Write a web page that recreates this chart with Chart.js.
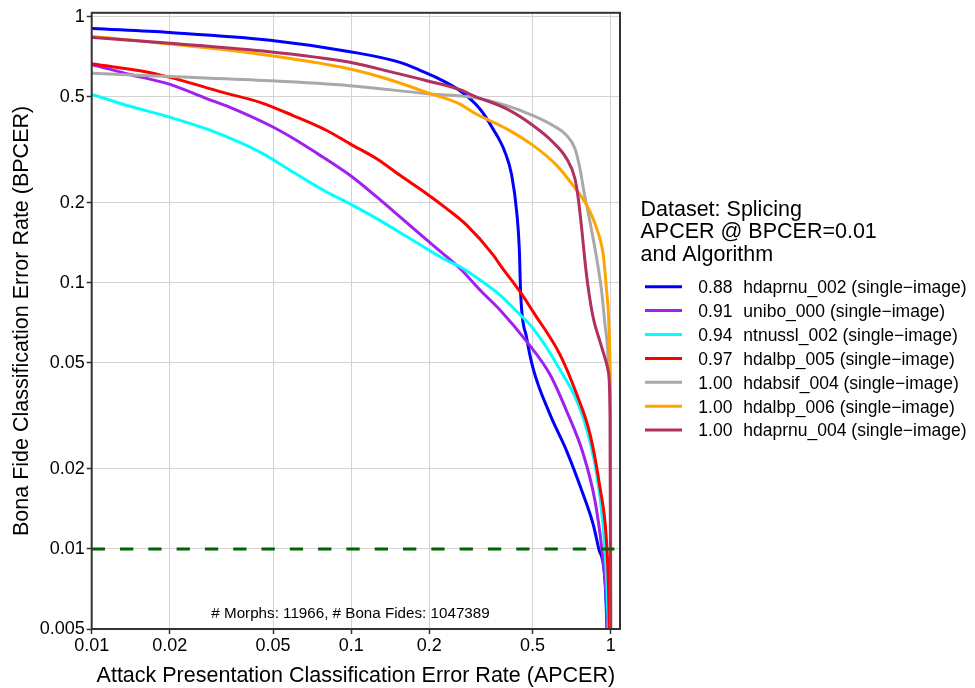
<!DOCTYPE html>
<html>
<head>
<meta charset="utf-8">
<script src="https://cdn.jsdelivr.net/npm/chart.js@4.4.1/dist/chart.umd.min.js"></script>
<style>
html,body{margin:0;padding:0;background:#ffffff;}
#c{display:block;}
</style>
</head>
<body>
<canvas id="c" width="975" height="688" style="width:975px;height:688px"></canvas>
<script>
// ---- tick labels ----
const xTicks = [0.01, 0.02, 0.05, 0.1, 0.2, 0.5, 1];
const yTicks = [0.005, 0.01, 0.02, 0.05, 0.1, 0.2, 0.5, 1];

// ---- legend / categories ----
const algorithms = [
  "hdaprnu_002 (single\u2212image)",
  "unibo_000 (single\u2212image)",
  "ntnussl_002 (single\u2212image)",
  "hdalbp_005 (single\u2212image)",
  "hdabsif_004 (single\u2212image)",
  "hdalbp_006 (single\u2212image)",
  "hdaprnu_004 (single\u2212image)"
];
const apcerAtBpcer = ["0.88", "0.91", "0.94", "0.97", "1.00", "1.00", "1.00"];
const seriesColors = ["#0000FF", "#A020F0", "#00FFFF", "#FF0000", "#A9A9A9", "#FFA500", "#B03060"];
const legendTitle = ["Dataset: Splicing", "APCER @ BPCER=0.01", "and Algorithm"];
const annotation = "# Morphs: 11966, # Bona Fides: 1047389";
const bpcerThreshold = 0.01;

// ---- series values (APCER = x, BPCER = y) ----
const hdaprnu002X = [0.0095, 0.01012, 0.02003, 0.04866, 0.09894, 0.1542, 0.1841, 0.2199, 0.2626, 0.3135, 0.3520, 0.3915, 0.4153, 0.4343, 0.4444, 0.4500, 0.4747, 0.5019, 0.5836, 0.6767, 0.7822, 0.8548, 0.8974, 0.9506, 0.9677, 0.972];
const hdaprnu002Y = [0.905, 0.902, 0.871, 0.815, 0.738, 0.673, 0.628, 0.581, 0.526, 0.4497, 0.3784, 0.3094, 0.2538, 0.1845, 0.1344, 0.0902, 0.0619, 0.0478, 0.0320, 0.0233, 0.01607, 0.01241, 0.01009, 0.00759, 0.005, 0.0043];

const unibo000X = [0.0095, 0.01012, 0.01405, 0.02003, 0.02757, 0.03412, 0.04866, 0.05967, 0.07364, 0.09894, 0.1254, 0.1542, 0.1954, 0.2333, 0.2626, 0.3183, 0.3745, 0.4747, 0.5836, 0.6767, 0.7842, 0.8701, 0.9232, 0.9592, 0.9703, 0.9746];
const unibo000Y = [0.665, 0.657, 0.606, 0.556, 0.493, 0.456, 0.3897, 0.3491, 0.3068, 0.2532, 0.2100, 0.1767, 0.1449, 0.1252, 0.1131, 0.0925, 0.0790, 0.0601, 0.0452, 0.0329, 0.0227, 0.01513, 0.01011, 0.00679, 0.00505, 0.0043];

const ntnussl002X = [0.0095, 0.01014, 0.01405, 0.02003, 0.02857, 0.04453, 0.05967, 0.08047, 0.09894, 0.1254, 0.1685, 0.2259, 0.2626, 0.3328, 0.3745, 0.4472, 0.5019, 0.6265, 0.7842, 0.8831, 0.9364, 0.9651, 0.9790, 0.983];
const ntnussl002Y = [0.515, 0.507, 0.460, 0.4184, 0.3741, 0.3094, 0.2604, 0.2192, 0.1977, 0.1741, 0.1465, 0.1233, 0.1148, 0.0983, 0.0899, 0.0759, 0.0674, 0.0485, 0.0310, 0.0191, 0.01202, 0.00759, 0.00505, 0.0043];

const hdalbp005X = [0.0095, 0.01014, 0.01535, 0.02003, 0.03206, 0.04453, 0.05967, 0.08047, 0.09894, 0.1254, 0.1542, 0.1954, 0.2333, 0.2787, 0.3529, 0.3745, 0.4472, 0.5019, 0.6376, 0.7396, 0.8323, 0.9095, 0.9592, 0.9790, 0.9877, 0.990];
const hdalbp005Y = [0.67, 0.663, 0.626, 0.591, 0.519, 0.476, 0.4247, 0.3732, 0.3324, 0.2921, 0.2532, 0.2160, 0.1898, 0.1645, 0.1270, 0.1168, 0.0925, 0.0779, 0.0537, 0.0381, 0.0270, 0.01697, 0.01138, 0.00759, 0.00505, 0.0043];

const hdabsif004X = [0.0095, 0.01014, 0.02003, 0.04866, 0.09894, 0.2013, 0.2947, 0.3974, 0.5019, 0.5994, 0.6767, 0.7284, 0.7615, 0.7891, 0.8323, 0.8831, 0.9232, 0.9506, 0.9703, 0.9877, 0.9982, 1.0];
const hdabsif004Y = [0.613, 0.612, 0.595, 0.574, 0.550, 0.512, 0.497, 0.463, 0.4247, 0.3897, 0.3573, 0.3184, 0.268, 0.2192, 0.1692, 0.1233, 0.0925, 0.0696, 0.0586, 0.0438, 0.0302, 0.0043];

const hdalbp006X = [0.0095, 0.01014, 0.02003, 0.04453, 0.09894, 0.1449, 0.1954, 0.2626, 0.2947, 0.3974, 0.5019, 0.6193, 0.7156, 0.8083, 0.8831, 0.9364, 0.9651, 0.9790, 0.9938, 0.9982, 1.0];
const hdalbp006Y = [0.842, 0.839, 0.788, 0.722, 0.635, 0.574, 0.519, 0.469, 0.437, 0.3784, 0.328, 0.276, 0.2322, 0.1954, 0.1597, 0.127, 0.0925, 0.0779, 0.0506, 0.0302, 0.0043];

const hdaprnu004X = [0.0095, 0.01014, 0.02003, 0.04453, 0.09894, 0.1449, 0.1954, 0.2626, 0.2947, 0.3974, 0.5019, 0.5994, 0.6767, 0.7284, 0.7500, 0.7731, 0.7962, 0.8199, 0.8570, 0.9095, 0.9592, 0.9790, 0.9938, 1.0];
const hdaprnu004Y = [0.837, 0.834, 0.794, 0.744, 0.673, 0.617, 0.574, 0.531, 0.505, 0.4497, 0.3897, 0.3373, 0.2921, 0.2458, 0.2069, 0.1597, 0.1199, 0.0950, 0.0735, 0.0601, 0.0506, 0.0464, 0.0329, 0.0043];

const seriesX = [hdaprnu002X, unibo000X, ntnussl002X, hdalbp005X, hdabsif004X, hdalbp006X, hdaprnu004X];
const seriesY = [hdaprnu002Y, unibo000Y, ntnussl002Y, hdalbp005Y, hdabsif004Y, hdalbp006Y, hdaprnu004Y];

const X_MIN = 0.01, X_MAX = 1.086;
const Y_MIN = 0.005, Y_MAX = 1.033;
const FONT = "'Liberation Sans', Arial, Helvetica, sans-serif";

const datasets = seriesX.map((xs, i) => ({
  label: algorithms[i],
  data: xs.map((x, j) => ({x: x, y: seriesY[i][j]})),
  borderColor: seriesColors[i],
  backgroundColor: seriesColors[i],
  borderWidth: 3,
  pointRadius: 0,
  fill: false,
  cubicInterpolationMode: 'monotone',
  order: seriesX.length - i
}));
datasets.push({
  label: 'BPCER=0.01',
  data: [{x: X_MIN, y: bpcerThreshold}, {x: X_MAX, y: bpcerThreshold}],
  borderColor: '#006400',
  borderWidth: 3,
  borderDash: [13.3, 15],
  pointRadius: 0,
  fill: false,
  order: 0
});

const decor = {
  id: 'decor',
  afterDatasetsDraw(chart) {
    const {ctx, chartArea: a} = chart;
    ctx.save();
    ctx.strokeStyle = '#333333';
    ctx.lineWidth = 2;
    ctx.strokeRect(a.left, a.top, a.right - a.left, a.bottom - a.top);
    ctx.fillStyle = '#000';
    ctx.font = "15.2px " + FONT;
    ctx.textAlign = 'center';
    ctx.textBaseline = 'alphabetic';
    ctx.fillText(annotation, 350.5, 618.3);
    ctx.restore();
  },
  afterDraw(chart) {
    const ctx = chart.ctx;
    ctx.save();
    ctx.fillStyle = '#000';
    ctx.textAlign = 'left';
    ctx.textBaseline = 'alphabetic';
    ctx.font = "21.5px " + FONT;
    legendTitle.forEach((t, i) => ctx.fillText(t, 640.5, 216 + i * 22.3));
    ctx.font = "17.5px " + FONT;
    for (let i = 0; i < algorithms.length; i++) {
      const y = 286.7 + i * 23.9;
      ctx.strokeStyle = seriesColors[i];
      ctx.lineWidth = 3;
      ctx.beginPath();
      ctx.moveTo(645, y);
      ctx.lineTo(682, y);
      ctx.stroke();
      ctx.fillText(apcerAtBpcer[i], 698.3, y + 6.3);
      ctx.fillText(algorithms[i], 743.3, y + 6.3);
    }
    ctx.restore();
  }
};

new Chart(document.getElementById('c'), {
  type: 'line',
  data: {datasets: datasets},
  plugins: [decor],
  options: {
    responsive: false,
    devicePixelRatio: 1,
    animation: false,
    events: [],
    layout: {padding: {left: 0, right: 355, top: 9.5, bottom: 0}},
    plugins: {legend: {display: false}, tooltip: {enabled: false}, title: {display: false}},
    scales: {
      x: {
        type: 'logarithmic',
        min: X_MIN, max: X_MAX,
        bounds: 'data',
        afterBuildTicks: s => { s.ticks = xTicks.map(v => ({value: v})); },
        afterFit: s => { s.height = 59; },
        ticks: {
          autoSkip: false, maxRotation: 0, minRotation: 0,
          color: '#000', padding: 1,
          font: {family: FONT, size: 18},
          callback: v => String(v)
        },
        grid: {color: '#d3d3d3', lineWidth: 1, tickLength: 5, tickColor: '#333333', tickWidth: 1.5, drawTicks: true},
        border: {display: false},
        title: {display: true, text: 'Attack Presentation Classification Error Rate (APCER)', color: '#000',
                font: {family: FONT, size: 21.5}, padding: {top: 0, bottom: -1}}
      },
      y: {
        type: 'logarithmic',
        min: Y_MIN, max: Y_MAX,
        bounds: 'data',
        afterBuildTicks: s => { s.ticks = yTicks.map(v => ({value: v})); },
        afterFit: s => { s.width = 91.7; },
        ticks: {
          autoSkip: false,
          color: '#000', padding: 2,
          font: {family: FONT, size: 18},
          callback: v => String(v)
        },
        grid: {color: '#d3d3d3', lineWidth: 1, tickLength: 5, tickColor: '#333333', tickWidth: 1.5, drawTicks: true},
        border: {display: false},
        title: {display: true, text: 'Bona Fide Classification Error Rate (BPCER)', color: '#000',
                font: {family: FONT, size: 21.5}, padding: {top: 9, bottom: 0}}
      }
    }
  }
});
</script>
</body>
</html>
